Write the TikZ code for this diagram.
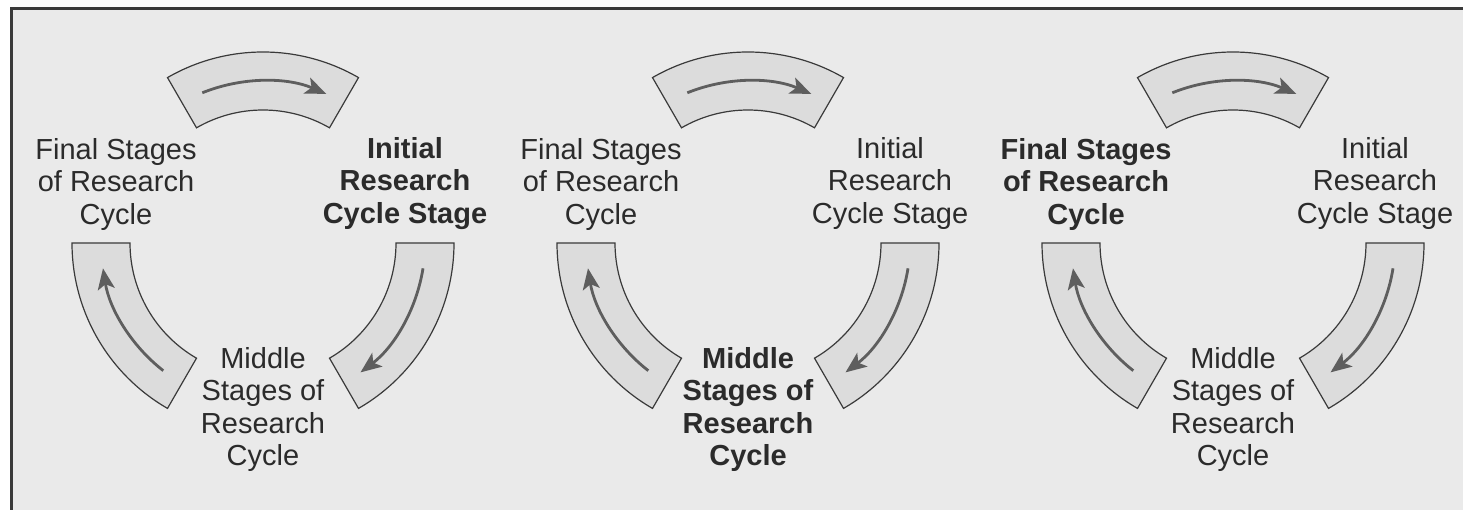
\documentclass[tikz,border=0pt]{standalone}
\usepackage{fontspec}
\setmainfont{Liberation Sans}
\usetikzlibrary{arrows.meta}
\definecolor{bg}{HTML}{EAEAEA}
\definecolor{band}{HTML}{DCDCDC}
\definecolor{framec}{HTML}{3A3A3A}
\definecolor{arr}{HTML}{5E5E5E}
\definecolor{txt}{HTML}{2B2B2B}
\begin{document}
\begin{tikzpicture}[x=1pt,y=1pt,
  bandshape/.style={fill=band, draw=framec, line width=1.2pt, line join=miter},
  flow/.style={draw=arr, line width=2.8pt, -{Stealth[length=21pt,width=17pt,inset=5pt]}},
  lab/.style={align=center, inner sep=0pt, anchor=north, text=txt, font=\fontsize{29}{32.5}\selectfont},
  labb/.style={lab, font=\fontsize{29}{32.5}\selectfont\bfseries},
]
\useasboundingbox (0,0) rectangle (1463,-510);
\clip (0,0) rectangle (1463,-510);
\fill[white] (0,0) rectangle (1463,-510);
\draw[fill=bg, draw=framec, line width=2.5pt] (11.5,-8.5) rectangle (1480,-530);
\foreach \cx/\fs/\is/\ms/\n in {263/lab/labb/lab/a, 748/lab/lab/labb/b, 1233/labb/lab/lab/c}{
 \begin{scope}[shift={(\cx,-243)}]
  \path[bandshape] (120:191) arc[start angle=120,end angle=60,radius=191] -- (60:133) arc[start angle=60,end angle=120,radius=133] -- cycle;
  \path[bandshape] (0:191) arc[start angle=0,end angle=-60,radius=191] -- (-60:133) arc[start angle=-60,end angle=0,radius=133] -- cycle;
  \path[bandshape] (240:191) arc[start angle=240,end angle=180,radius=191] -- (180:133) arc[start angle=180,end angle=240,radius=133] -- cycle;
  \draw[flow] (112:162) arc[start angle=112,end angle=67,radius=162];
  \draw[flow] (-9:162) arc[start angle=-9,end angle=-53,radius=162];
  \draw[flow] (232:162) arc[start angle=232,end angle=189,radius=162];
  \node[\fs] (fin\n) at (-147,105) {Final Stages\\of Research\\Cycle};
  \node[\is] (ini\n) at (142,106) {Initial\\Research\\Cycle Stage};
  \node[\ms] (mid\n) at (0,-104) {Middle\\Stages of\\Research\\Cycle};
 \end{scope}
}
\end{tikzpicture}
\end{document}
